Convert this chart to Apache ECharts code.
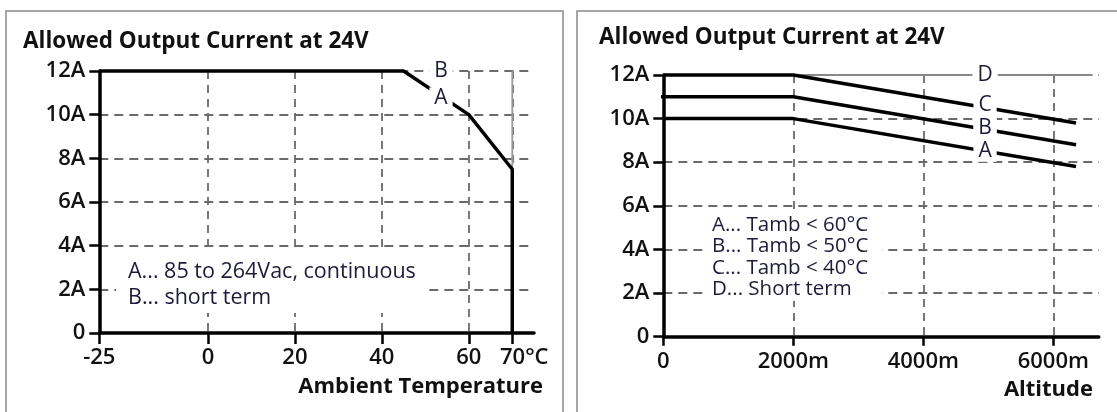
<!DOCTYPE html>
<html><head><meta charset="utf-8">
<script src="https://cdn.jsdelivr.net/npm/echarts@6/dist/echarts.min.js"></script>
<style>html,body{margin:0;padding:0;background:#fff}#c{width:1117px;height:412px}</style>
</head><body><div id="c"></div>
<script>
const titleText = 'Allowed Output Current at 24V';
// ---- left chart: current vs ambient temperature ----
const tempTicks = [-25, 0, 20, 40, 60, 70];
const tempCurveA = [[-25, 12], [45, 12], [60, 10], [70, 7.5], [70, 0]];
const tempCurveB = [[70, 12], [70, 7.5]];
const tempLabels = [{ name: 'B', value: [53.6, 12] }, { name: 'A', value: [53.6, 10.77] }];
const tempNotes = ['A... 85 to 264Vac, continuous', 'B... short term'];
const tempAxisName = 'Ambient Temperature';
// ---- right chart: current vs altitude ----
const altTicks = [0, 2000, 4000, 6000];
const altCurveA = [[0, 10], [2000, 10], [6350, 7.8]];
const altCurveB = [[-100, 11], [2000, 11], [6350, 8.8]];
const altCurveC = [[0, 12], [2000, 12], [6350, 9.8]];
const altCurveD = [[2000, 12], [6600, 12]];
const altLabels = [{ name: 'D', value: [4950, 12] }, { name: 'C', value: [4950, 10.62] },
                   { name: 'B', value: [4950, 9.55] }, { name: 'A', value: [4950, 8.5] }];
const altNotes = ['A... Tamb < 60°C', 'B... Tamb < 50°C', 'C... Tamb < 40°C', 'D... Short term'];
const altAxisName = 'Altitude';

const FF = '"Open Sans", sans-serif';
const dashH = { type: [9, 6], color: '#6a6a6a', width: 1.8 };
const dashV = { type: [8, 6], color: '#6a6a6a', width: 1.8 };
const axisLineStyle = { color: '#000', width: 3.5 };
const tickStyle = { color: '#000', width: 2.5 };
const tickFont = { fontSize: 22, fontWeight: 600, color: '#111', fontFamily: FF };
const yLabel = Object.assign({ margin: 14, formatter: v => v === 0 ? '0' : v + 'A' }, tickFont);

function yAxis(gi) {
  return { gridIndex: gi, type: 'value', min: 0, max: 12, interval: 2,
    axisLine: { show: true, onZero: false, lineStyle: axisLineStyle },
    axisTick: { show: true, length: 10, lineStyle: tickStyle },
    axisLabel: yLabel, splitLine: { show: true, lineStyle: dashH } };
}
function lineSeries(xi, data, color, width) {
  return { type: 'line', xAxisIndex: xi, yAxisIndex: xi, data, symbol: 'none', clip: false,
    lineStyle: { color, width }, z: color === '#000' ? 4 : 3, silent: true, animation: false };
}
function labelSeries(xi, data) {
  return { type: 'scatter', xAxisIndex: xi, yAxisIndex: xi, data, symbolSize: 1,
    itemStyle: { color: '#fff', opacity: 1 }, silent: true, animation: false, z: 20,
    emphasis: { disabled: true }, labelLayout: { hideOverlap: false },
    label: { show: true, position: 'inside', formatter: '{b}', fontSize: 21, fontFamily: FF,
      color: '#1c1c38', opacity: 1, backgroundColor: '#fff', padding: [0, 5] } };
}

const chart = echarts.init(document.getElementById('c'), null, { renderer: 'canvas' });
chart.setOption({
  animation: false,
  backgroundColor: '#fff',
  grid: [
    { left: 99.3, top: 71, width: 434.7, height: 262 },
    { left: 663.3, top: 75, width: 435.5, height: 261.7 }
  ],
  xAxis: [
    { gridIndex: 0, type: 'value', min: -25, max: 75,
      axisLine: { onZero: false, lineStyle: axisLineStyle },
      axisTick: { customValues: tempTicks, length: 11, lineStyle: tickStyle },
      axisLabel: Object.assign({ customValues: tempTicks, margin: 14,
        formatter: v => v === 70 ? '{u|70°C}' : String(v),
        rich: { u: Object.assign({ padding: [0, 0, 0, 24] }, tickFont) } }, tickFont),
      splitLine: { show: true, lineStyle: dashV } },
    { gridIndex: 1, type: 'value', min: 0, max: 6700,
      axisLine: { onZero: false, lineStyle: axisLineStyle },
      axisTick: { customValues: altTicks, length: 9, lineStyle: tickStyle },
      axisLabel: Object.assign({ customValues: altTicks, margin: 14,
        formatter: v => v === 0 ? '0' : v + 'm' }, tickFont),
      splitLine: { show: true, lineStyle: dashV } }
  ],
  yAxis: [yAxis(0), yAxis(1)],
  series: [
    lineSeries(0, tempCurveB, '#999', 1.8),
    lineSeries(0, tempCurveA, '#000', 3.5),
    labelSeries(0, tempLabels),
    lineSeries(1, altCurveD, '#888', 1.8),
    lineSeries(1, altCurveC, '#000', 3.5),
    lineSeries(1, altCurveB, '#000', 3.5),
    lineSeries(1, altCurveA, '#000', 3.5),
    labelSeries(1, altLabels)
  ],
  graphic: [
    { type: 'rect', z: 0, shape: { x: 6, y: 11, width: 557, height: 430 }, style: { fill: 'none', stroke: '#8a8a8a', lineWidth: 1.5 } },
    { type: 'rect', z: 0, shape: { x: 577, y: 11, width: 560, height: 430 }, style: { fill: 'none', stroke: '#8a8a8a', lineWidth: 1.5 } },
    { type: 'text', z: 100, style: { text: titleText, x: 23, y: 42, verticalAlign: 'middle', font: 'bold 22.5px ' + FF, fill: '#111' } },
    { type: 'text', z: 100, style: { text: titleText, x: 599, y: 38, verticalAlign: 'middle', font: 'bold 22.5px ' + FF, fill: '#111' } },
    { type: 'text', z: 100, style: { text: tempAxisName, x: 543, y: 387, align: 'right', verticalAlign: 'middle', font: 'bold 22px ' + FF, fill: '#111' } },
    { type: 'text', z: 100, style: { text: altAxisName, x: 1093, y: 390, align: 'right', verticalAlign: 'middle', font: 'bold 22px ' + FF, fill: '#111' } },
    { type: 'text', z: 100, style: { text: tempNotes.join('\n'), x: 116, y: 253, font: '21.5px ' + FF, fill: '#1c1c38',
      lineHeight: 26, backgroundColor: '#fff', padding: [6, 12, 2, 12] } },
    { type: 'text', z: 100, style: { text: altNotes.join('\n'), x: 705, y: 213, font: '20.5px ' + FF, fill: '#1c1c38',
      lineHeight: 21.5, backgroundColor: '#fff', padding: [1, 14, 1, 7] } }
  ]
});
</script></body></html>
